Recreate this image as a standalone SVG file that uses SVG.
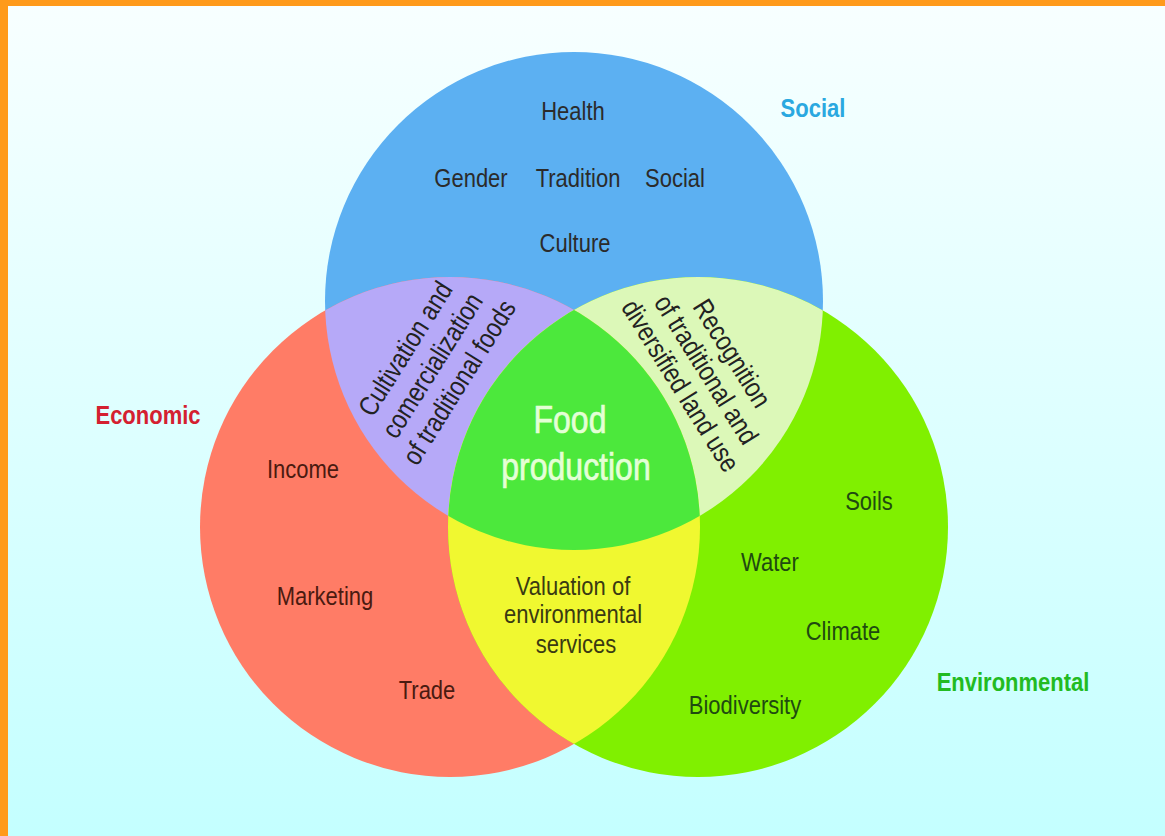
<svg xmlns="http://www.w3.org/2000/svg" width="1165" height="836" viewBox="0 0 1165 836">
<style>
.t{font-family:"Liberation Sans",Arial,sans-serif;font-size:22px;text-anchor:middle;fill:#2b2b2b}
.r{font-family:"Liberation Sans",Arial,sans-serif;font-size:23px;text-anchor:middle;fill:#222}
.h{font-family:"Liberation Sans",Arial,sans-serif;font-size:22px;font-weight:bold;text-anchor:middle}
.f{font-family:"Liberation Sans",Arial,sans-serif;font-size:32px;text-anchor:middle;fill:#e4ffd6;stroke:#e4ffd6;stroke-width:0.6}
</style>
<defs>
<linearGradient id="bg" x1="0" y1="0" x2="0" y2="1">
<stop offset="0" stop-color="#f8ffff"/>
<stop offset="1" stop-color="#c4ffff"/>
</linearGradient>
<clipPath id="cS"><circle cx="574" cy="301" r="249"/></clipPath>
<clipPath id="cE"><circle cx="450" cy="527" r="250"/></clipPath>
</defs>
<rect x="0" y="0" width="1165" height="836" fill="url(#bg)"/>
<rect x="0" y="0" width="1165" height="6" fill="#ff9a1a"/>
<rect x="0" y="0" width="8" height="836" fill="#ff9a1a"/>

<g id="social">
<circle cx="574" cy="301" r="249" fill="#5cb0f2"/>
</g>
<g id="economic">
<circle cx="450" cy="527" r="250" fill="#ff7c66"/>
</g>
<g id="environmental">
<circle cx="698" cy="527" r="250" fill="#80f000"/>
</g>
<g id="social-economic" clip-path="url(#cS)">
<circle cx="450" cy="527" r="250" fill="#b6a9f8"/>
</g>
<g id="social-environmental" clip-path="url(#cS)">
<circle cx="698" cy="527" r="250" fill="#dcf8b8"/>
</g>
<g id="economic-environmental" clip-path="url(#cE)">
<circle cx="698" cy="527" r="250" fill="#f0f830"/>
</g>
<g id="food-production" clip-path="url(#cS)">
<g clip-path="url(#cE)">
<circle cx="698" cy="527" r="250" fill="#4ce83c"/>
</g>
</g>
<g id="connectors"/>

<g id="labels">
<text class="h" fill="#2aa8e0" transform="translate(813 117) scale(1 1.2)">Social</text>
<text class="h" fill="#d42030" transform="translate(148 424) scale(1 1.2)">Economic</text>
<text class="h" fill="#22bb22" transform="translate(1013 691) scale(1 1.2)">Environmental</text>

<text class="t" transform="translate(573 120) scale(1 1.2)">Health</text>
<text class="t" transform="translate(471 187) scale(1 1.2)">Gender</text>
<text class="t" transform="translate(578 187) scale(1 1.2)">Tradition</text>
<text class="t" transform="translate(675 187) scale(1 1.2)">Social</text>
<text class="t" transform="translate(575 252) scale(1 1.2)">Culture</text>

<text class="t" fill="#4a1a10" style="fill:#4a1a10" transform="translate(303 478) scale(1 1.2)">Income</text>
<text class="t" style="fill:#4a1a10" transform="translate(325 605) scale(1 1.2)">Marketing</text>
<text class="t" style="fill:#4a1a10" transform="translate(427 699) scale(1 1.2)">Trade</text>

<text class="t" style="fill:#1f4a10" transform="translate(869 510) scale(1 1.2)">Soils</text>
<text class="t" style="fill:#1f4a10" transform="translate(770 571) scale(1 1.2)">Water</text>
<text class="t" style="fill:#1f4a10" transform="translate(843 640) scale(1 1.2)">Climate</text>
<text class="t" style="fill:#1f4a10" transform="translate(745 714) scale(1 1.2)">Biodiversity</text>

<text class="t" style="fill:#3a3a12" transform="translate(573 595) scale(1 1.2)">Valuation of</text>
<text class="t" style="fill:#3a3a12" transform="translate(573 623) scale(1 1.2)">environmental</text>
<text class="t" style="fill:#3a3a12" transform="translate(576 653) scale(1 1.2)">services</text>

<text class="f" transform="translate(570 433) scale(1 1.2)">Food</text>
<text class="f" transform="translate(576 480) scale(1 1.2)">production</text>

<g transform="translate(433 366) rotate(-58) scale(1 1.2)">
<text class="r" y="-19.4">Cultivation and</text>
<text class="r" y="7">comercialization</text>
<text class="r" y="33.4">of traditional foods</text>
</g>
<g transform="translate(705.5 370) rotate(58) scale(1 1.2)">
<text class="r" y="-18.4">Recognition</text>
<text class="r" y="7">of traditional and</text>
<text class="r" y="32.4">diversified land use</text>
</g>
</g>
</svg>
